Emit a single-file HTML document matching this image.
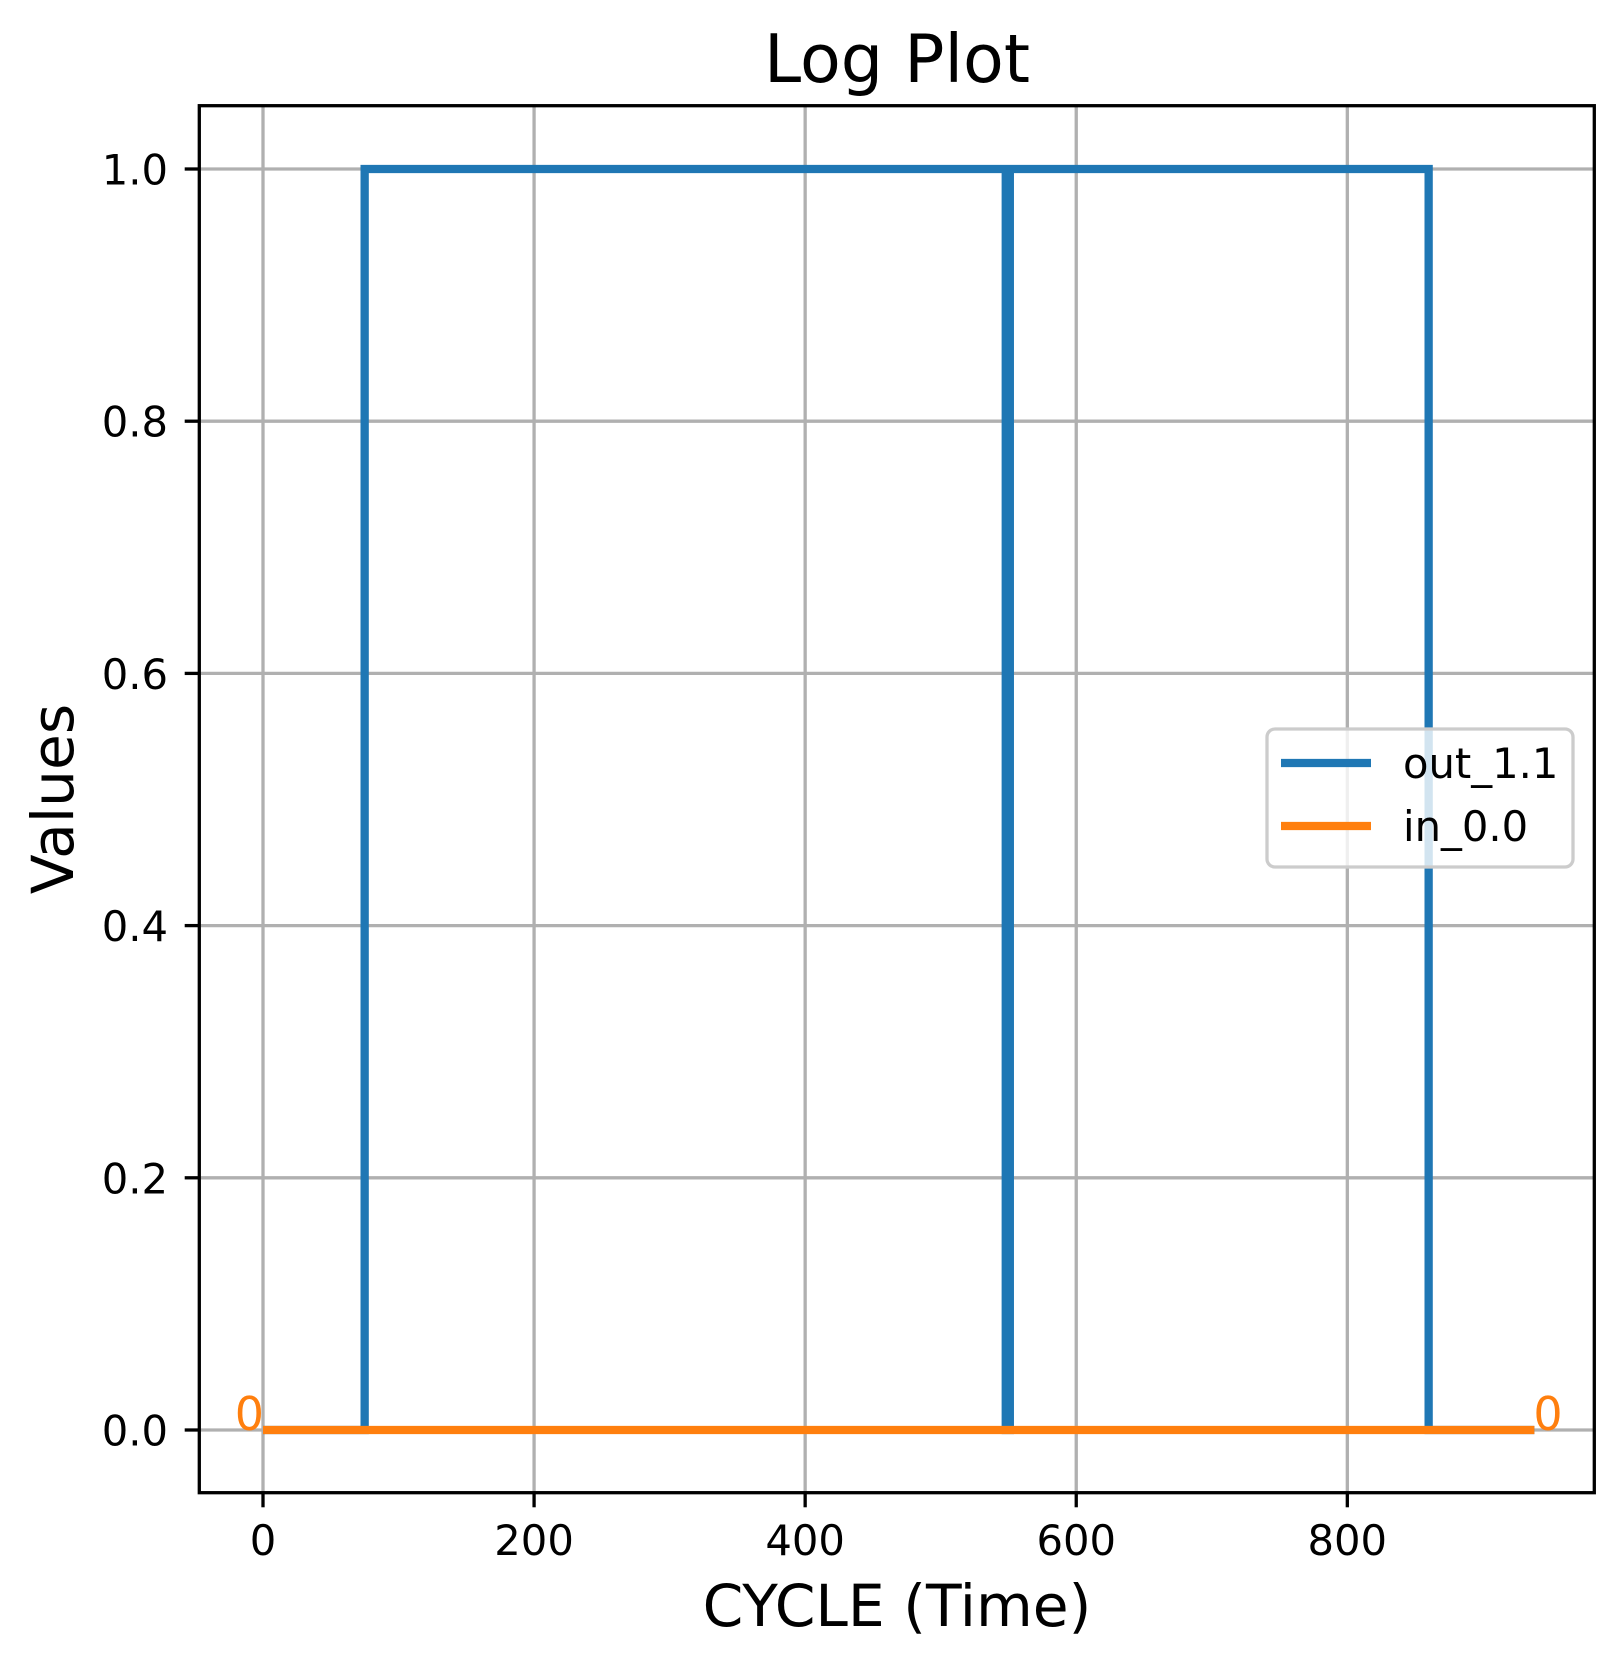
<!DOCTYPE html>
<html><head><meta charset="utf-8"><style>
html,body{margin:0;padding:0;background:#fff;}
svg{display:block;font-family:"DejaVu Sans","Liberation Sans",sans-serif;}
</style></head><body>
<svg id="chart" width="1624" height="1667" viewBox="0 0 1624 1667">
<rect width="1624" height="1667" fill="#fff"/>
<g id="grid"></g>
<g id="series"></g>
<rect x="199.3" y="105.7" width="1395" height="1387" fill="none" stroke="#000" stroke-width="3.3"/>
<g id="ticks"></g>
<text x="897" y="82" font-size="66.7" text-anchor="middle">Log Plot</text>
<text x="897" y="1626" font-size="58.3" text-anchor="middle">CYCLE (Time)</text>
<text transform="translate(73,799) rotate(-90)" font-size="58.3" text-anchor="middle">Values</text>
<g>
<rect x="1267" y="729" width="306" height="138" rx="8" fill="#fff" fill-opacity="0.8" stroke="#ccc" stroke-width="3.3"/>
<line x1="1281" y1="763" x2="1371" y2="763" stroke="#1f77b4" stroke-width="8.3"/>
<text x="1403" y="778" font-size="41.7">out_1.1</text>
<line x1="1281" y1="826" x2="1371" y2="826" stroke="#ff7f0e" stroke-width="8.3"/>
<text x="1403" y="841" font-size="41.7">in_0.0</text>
</g>
</svg>
<script>
const xTicks = [0, 200, 400, 600, 800];
const yTicks = [0.0, 0.2, 0.4, 0.6, 0.8, 1.0];
const yTickLabels = ["0.0", "0.2", "0.4", "0.6", "0.8", "1.0"];
const outX = [0, 75, 75, 548, 548, 551, 551, 860, 860, 938];
const outY = [0, 0, 1, 1, 0, 0, 1, 1, 0, 0];
const inX = [0, 938];
const inY = [0, 0];
const annStart = "0";
const annEnd = "0";

const NS = "http://www.w3.org/2000/svg";
const X0 = 263, XS = 1.3554;
const Y0 = 1430, YS = 1261;
const xp = v => X0 + v * XS;
const yp = v => Y0 - v * YS;
const L = 199.3, R = 1594.3, T = 105.7, B = 1492.7;
function mk(tag, attrs, parent) {
  const e = document.createElementNS(NS, tag);
  for (const k in attrs) e.setAttribute(k, attrs[k]);
  parent.appendChild(e);
  return e;
}
const grid = document.getElementById('grid');
const ticks = document.getElementById('ticks');
const series = document.getElementById('series');
xTicks.forEach(t => {
  const g = mk('line', {x1: xp(t), x2: xp(t), y1: T, y2: B, stroke: '#b0b0b0', 'stroke-width': 3.3}, grid);
  
  
  const tk = mk('line', {x1: xp(t), x2: xp(t), y1: B, y2: B + 14.6, stroke: '#000', 'stroke-width': 3.3}, ticks);
  
  
  const tx = mk('text', {x: xp(t), y: 1555, 'font-size': 41.7, 'text-anchor': 'middle'}, ticks);
  tx.textContent = String(t);
  
  
});
yTicks.forEach((t, i) => {
  const g = mk('line', {x1: L, x2: R, y1: yp(t), y2: yp(t), stroke: '#b0b0b0', 'stroke-width': 3.3}, grid);
  
  
  const tk = mk('line', {x1: L - 14.6, x2: L, y1: yp(t), y2: yp(t), stroke: '#000', 'stroke-width': 3.3}, ticks);
  
  
  const tx = mk('text', {x: 168, y: yp(t) + 15.5, 'font-size': 41.7, 'text-anchor': 'end'}, ticks);
  tx.textContent = yTickLabels[i];
  
  
});
function pts(xs, ys) { return xs.map((x, i) => xp(x) + ',' + yp(ys[i])).join(' '); }
const lo = mk('polyline', {points: pts(outX, outY), fill: 'none', stroke: '#1f77b4', 'stroke-width': 8.3, 'stroke-linejoin': 'miter'}, series);


const li = mk('polyline', {points: pts(inX, inY), fill: 'none', stroke: '#ff7f0e', 'stroke-width': 8.3}, series);


const a1 = mk('text', {x: xp(inX[0]) + 1, y: yp(inY[0]), 'font-size': 46, fill: '#ff7f0e', 'text-anchor': 'end'}, series);
a1.textContent = annStart;


const a2 = mk('text', {x: xp(inX[inX.length - 1]) - 1, y: yp(inY[inY.length - 1]), 'font-size': 46, fill: '#ff7f0e', 'text-anchor': 'start'}, series);
a2.textContent = annEnd;


</script>
</body></html>
